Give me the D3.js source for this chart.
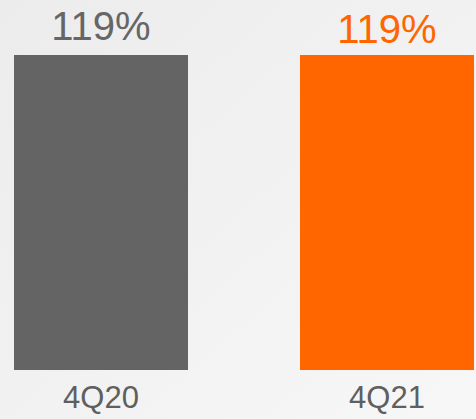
<!DOCTYPE html>
<html>
<head>
<meta charset="utf-8">
<script src="https://cdn.jsdelivr.net/npm/d3@7"></script>
<style>
  html, body { margin: 0; padding: 0; background: #f2f2f2; }
  svg { display: block; }
  text { font-family: "Liberation Sans", Arial, sans-serif; }
</style>
</head>
<body>
<svg id="chart" width="476" height="419"></svg>
<script>
const categories = ["4Q20", "4Q21"];
const values = [119, 119];
const valueLabels = ["119%", "119%"];
const barColors = ["#646464", "#ff6600"];
const labelColors = ["#666666", "#ff6600"];

const W = 476, H = 419;
const svg = d3.select("#chart");

const defs = svg.append("defs");
const grad = defs.append("linearGradient").attr("id", "bg")
  .attr("x1", "0%").attr("y1", "0%").attr("x2", "100%").attr("y2", "100%");
grad.append("stop").attr("offset", "0%").attr("stop-color", "#ececec");
grad.append("stop").attr("offset", "100%").attr("stop-color", "#f7f7f7");
svg.append("rect").attr("width", W).attr("height", H).attr("fill", "url(#bg)");

const x = d3.scaleBand().domain(categories).range([14, 474])
  .paddingInner(112 / 286).paddingOuter(0);
const y = d3.scaleLinear().domain([0, 119]).range([370, 55]);

const data = categories.map((c, i) => ({ c, v: values[i], label: valueLabels[i], i }));

svg.selectAll("rect.bar").data(data).join("rect")
  .attr("class", "bar")
  .attr("x", d => x(d.c))
  .attr("y", d => y(d.v))
  .attr("width", x.bandwidth())
  .attr("height", d => y(0) - y(d.v))
  .attr("fill", d => barColors[d.i]);

svg.selectAll("text.val").data(data).join("text")
  .attr("class", "val")
  .attr("x", d => x(d.c) + x.bandwidth() / 2)
  .attr("y", d => y(d.v) - (d.i === 0 ? 15 : 12))
  .attr("text-anchor", "middle")
  .attr("font-size", 40)
  .attr("fill", d => labelColors[d.i])
  .text(d => d.label);

const xAxis = d3.axisBottom(x).tickSize(0).tickPadding(0);
const gx = svg.append("g").attr("transform", `translate(0,${y(0)})`).call(xAxis);
gx.select(".domain").remove();
gx.selectAll("text")
  .attr("dy", null)
  .attr("y", 38)
  .attr("font-size", 31)
  .attr("font-family", "Liberation Sans, Arial, sans-serif")
  .attr("fill", "#5f5f5f");
</script>
</body>
</html>
